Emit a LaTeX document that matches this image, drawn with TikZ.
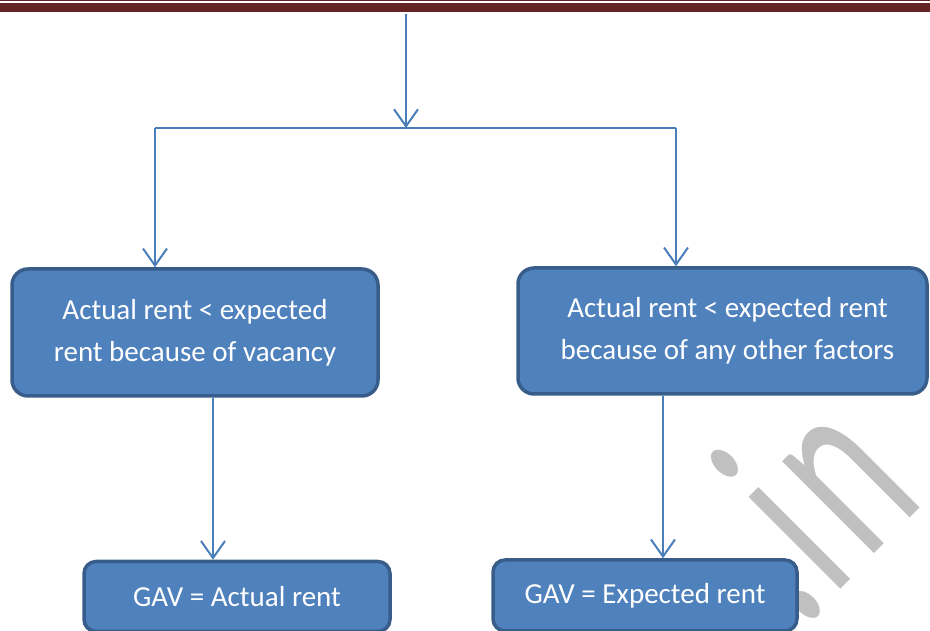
\documentclass[tikz,border=0pt]{standalone}
\usepackage{fontspec}
\setmainfont{Carlito}
\usetikzlibrary{arrows.meta,calc}
\definecolor{hdr}{HTML}{632423}
\definecolor{boxfill}{HTML}{4F81BD}
\definecolor{boxline}{HTML}{385D8A}
\definecolor{conn}{HTML}{4A7EBB}
\definecolor{wm}{HTML}{C0C0C0}
\tikzset{
  flowbox/.style={draw=boxline, fill=boxfill, line width=3.5pt, rounded corners=16pt,
    text=white, align=center, inner sep=0pt,
    font=\fontsize{29}{42}\selectfont},
  conn/.style={draw=conn, line width=2pt, -{Straight Barb[length=17pt,width=24pt,line width=2pt]}},
  plainconn/.style={draw=conn, line width=2pt},
  wmchar/.style={text=wm, rotate=45, xscale=0.6, anchor=base, inner sep=0pt,
    font=\fontsize{272}{272}\selectfont},
}
\begin{document}
\begin{tikzpicture}[x=1pt,y=1pt]
\useasboundingbox (0,0) rectangle (930,631);
\clip (0,0) rectangle (930,631);
% header
\fill[hdr] (0,630) rectangle (930,631.5);
\fill[hdr] (0,619) rectangle (930,628);
% watermark
\node[wmchar] (wmdot) at (817,16) {.};
\node[wmchar] (wmi) at (846,47) {i};
\node[wmchar] (wmn) at (897,100) {n};
% boxes
\node[flowbox, minimum width=366pt, minimum height=127pt] (b1) at (195,298.5)
  {Actual rent < expected\\rent because of vacancy};
\node[flowbox, minimum width=409pt, minimum height=126pt] (b2) at (722.5,300)
  {\hspace*{10pt}Actual rent < expected rent\\\hspace*{10pt}because of any other factors};
\node[flowbox, rounded corners=12pt, minimum width=306pt, minimum height=70pt] (b3) at (237,34.5)
  {GAV = Actual rent};
\node[flowbox, rounded corners=12pt, minimum width=304pt, minimum height=71pt] (b4) at (645,35.5)
  {GAV = Expected rent};
% connectors
\coordinate (top) at (406,617);
\coordinate (split) at (406,503);
\coordinate (sl) at (155,503);
\coordinate (sr) at (676,503);
\coordinate (xl) at (213,0);
\coordinate (xr) at (663,0);
\draw[conn] (top) -- (split);
\draw[plainconn] (sl) -- (sr);
\draw[conn] (sl) -- (sl |- b1.north);
\draw[conn] (sr) -- (sr |- b2.north);
\draw[conn] (b1.south -| xl) -- (b3.north -| xl);
\draw[conn] (b2.south -| xr) -- (b4.north -| xr);
\end{tikzpicture}
\end{document}
